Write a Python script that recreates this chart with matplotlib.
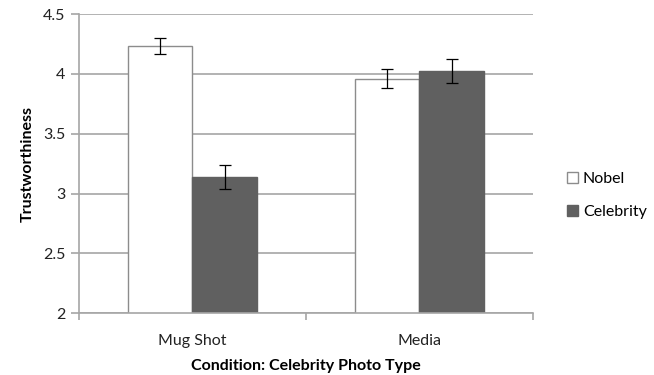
import matplotlib
matplotlib.use("Agg")
import matplotlib.pyplot as plt
import numpy as np

plt.rcParams['font.family'] = ['Lato', 'DejaVu Sans']

categories = ["Mug Shot", "Media"]
series_names = ["Nobel", "Celebrity"]
nobel = [4.23, 3.96]
nobel_err = [0.066, 0.08]
celebrity = [3.135, 4.025]
celebrity_err = [0.1, 0.1]
yticks = [2, 2.5, 3, 3.5, 4, 4.5]
ytick_labels = ["2", "2.5", "3", "3.5", "4", "4.5"]

fig = plt.figure(figsize=(6.54, 3.75), dpi=100)
ax = fig.add_axes([0.1208, 0.1645, 0.694, 0.798])

x = np.arange(len(categories))
w = 0.285
grid_c = "#a6a6a6"
fs = 11.5
ax.set_axisbelow(True)
ax.yaxis.grid(True, color=grid_c, linewidth=1.2)
ax.bar(x - w/2, nobel, w, color="white", edgecolor="#8c8c8c", linewidth=1.0, label=series_names[0], zorder=2)
ax.bar(x + w/2, celebrity, w, color="#606060", edgecolor="#606060", linewidth=1.0, label=series_names[1], zorder=2)
ax.errorbar(x - w/2, nobel, yerr=nobel_err, fmt="none", ecolor="black", elinewidth=0.9, capsize=4, capthick=0.9, zorder=3)
ax.errorbar(x + w/2, celebrity, yerr=celebrity_err, fmt="none", ecolor="black", elinewidth=0.9, capsize=4, capthick=0.9, zorder=3)

ax.set_ylim(2, 4.5)
ax.set_xlim(-0.5, 1.5)
ax.set_yticks(yticks)
ax.set_yticklabels(ytick_labels)
ax.set_xticks(x)
ax.set_xticklabels(categories)
ax.set_xticks([-0.5, 0.5, 1.5], minor=True)
ax.tick_params(axis="x", which="major", length=0, pad=15, labelsize=fs, labelcolor="#222222")
ax.tick_params(axis="x", which="minor", length=5, color=grid_c, width=1.2)
ax.tick_params(axis="y", length=6, color=grid_c, width=1.2, labelsize=fs, labelcolor="#222222", pad=4)
for s in ["top", "right"]:
    ax.spines[s].set_visible(False)
for s in ["left", "bottom"]:
    ax.spines[s].set_color(grid_c)
    ax.spines[s].set_linewidth(1.2)

ax.set_ylabel("Trustworthiness", fontsize=fs, fontweight="bold", labelpad=6)
ax.set_xlabel("Condition: Celebrity Photo Type", fontsize=fs, fontweight="bold", labelpad=8)

leg = fig.legend(loc="upper left", bbox_to_anchor=(0.845, 0.58), frameon=False, fontsize=fs,
                 handlelength=0.7, handleheight=0.7, handletextpad=0.3, labelspacing=1.2)

fig.savefig("out.png", dpi=100)
